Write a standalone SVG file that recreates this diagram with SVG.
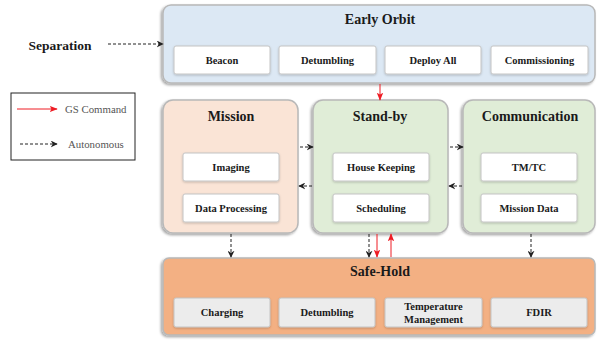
<svg xmlns="http://www.w3.org/2000/svg" width="597" height="341" viewBox="0 0 597 341">
<style>
.t{font-family:"Liberation Serif","Times New Roman",serif;font-weight:bold;fill:#1a1a1a;text-anchor:middle;dominant-baseline:central}
.ti{font-size:14px}
.s{font-size:10.5px}
.lg{font-family:"Liberation Serif","Times New Roman",serif;font-size:10.8px;fill:#555;dominant-baseline:central}
.grp{stroke:#b8b8b8;stroke-width:1.5;filter:url(#sh)}
.sub{fill:#fff;stroke:#c4c4c4;stroke-width:1;filter:url(#sh2)}
.subg{fill:#ececec;stroke:#c4c4c4;stroke-width:1;filter:url(#sh2)}
.da{stroke:#222;stroke-width:1;stroke-dasharray:3,2;fill:none;marker-end:url(#ab)}
.ra{stroke:#ee1c24;stroke-width:1;fill:none;marker-end:url(#ar)}
</style>
<defs>
<filter id="sh" x="-5%" y="-5%" width="110%" height="115%"><feDropShadow dx="-1.5" dy="1.5" stdDeviation="1" flood-color="#000" flood-opacity="0.35"/></filter>
<filter id="sh2" x="-5%" y="-10%" width="110%" height="130%"><feDropShadow dx="0" dy="1" stdDeviation="0.8" flood-color="#000" flood-opacity="0.2"/></filter>
<marker id="ab" viewBox="0 0 10 10" refX="9" refY="5" markerWidth="7" markerHeight="7" orient="auto" markerUnits="userSpaceOnUse"><path d="M0,0 L10,5 L0,10 L3,5 z" fill="#222"/></marker>
<marker id="ar" viewBox="0 0 10 10" refX="9" refY="5" markerWidth="8" markerHeight="8" orient="auto" markerUnits="userSpaceOnUse"><path d="M0,1 L10,5 L0,9 L2,5 z" fill="#ee1c24"/></marker>
</defs>
<rect width="597" height="341" fill="#fff"/>

<g id="separation"><text class="t" x="60" y="45" style="font-size:13.5px">Separation</text></g>

<g id="legend">
<rect x="11" y="93" width="124" height="67" fill="#fff" stroke="#222" stroke-width="1"/>
<line x1="17" y1="109" x2="57" y2="109" class="ra"/>
<text class="lg" x="65" y="109">GS Command</text>
<line x1="20" y1="144" x2="57" y2="144" class="da"/>
<text class="lg" x="68" y="144">Autonomous</text>
</g>

<g id="early-orbit">
<rect class="grp" x="163" y="5" width="432" height="78" rx="8" fill="#dce8f4"/>
<text class="t ti" x="380" y="19">Early Orbit</text>
<rect class="sub" x="174" y="46" width="96" height="28" rx="2"/><text class="t s" x="222" y="60">Beacon</text>
<rect class="sub" x="279" y="46" width="97" height="28" rx="2"/><text class="t s" x="327.5" y="60">Detumbling</text>
<rect class="sub" x="385" y="46" width="96" height="28" rx="2"/><text class="t s" x="433" y="60">Deploy All</text>
<rect class="sub" x="491" y="46" width="97" height="28" rx="2"/><text class="t s" x="539.5" y="60">Commissioning</text>
</g>

<g id="mission">
<rect class="grp" x="163" y="100" width="135" height="133" rx="10" fill="#fae4d6"/>
<text class="t ti" x="231" y="116">Mission</text>
<rect class="sub" x="183" y="153" width="96" height="28" rx="2"/><text class="t s" x="231" y="167">Imaging</text>
<rect class="sub" x="183" y="194" width="96" height="28" rx="2"/><text class="t s" x="231" y="208">Data Processing</text>
</g>

<g id="stand-by">
<rect class="grp" x="313" y="100" width="135" height="133" rx="10" fill="#e0edd7"/>
<text class="t ti" x="380" y="116">Stand-by</text>
<rect class="sub" x="333" y="153" width="96" height="28" rx="2"/><text class="t s" x="381" y="167">House Keeping</text>
<rect class="sub" x="333" y="194" width="96" height="28" rx="2"/><text class="t s" x="381" y="208">Scheduling</text>
</g>

<g id="communication">
<rect class="grp" x="463" y="100" width="132" height="133" rx="10" fill="#e0edd7"/>
<text class="t ti" x="530" y="116">Communication</text>
<rect class="sub" x="481" y="153" width="96" height="28" rx="2"/><text class="t s" x="529" y="167">TM/TC</text>
<rect class="sub" x="481" y="194" width="96" height="28" rx="2"/><text class="t s" x="529" y="208">Mission Data</text>
</g>

<g id="safe-hold">
<rect class="grp" x="163" y="258" width="432" height="77" rx="6" fill="#f3b083"/>
<text class="t ti" x="380" y="271">Safe-Hold</text>
<rect class="subg" x="174" y="298" width="96" height="29" rx="2"/><text class="t s" x="222" y="312.5">Charging</text>
<rect class="subg" x="279" y="298" width="96" height="29" rx="2"/><text class="t s" x="327" y="312.5">Detumbling</text>
<rect class="subg" x="385" y="298" width="97" height="29" rx="2"/><text class="t s" x="433.5" y="306">Temperature</text><text class="t s" x="433.5" y="319">Management</text>
<rect class="subg" x="491" y="298" width="96" height="29" rx="2"/><text class="t s" x="539" y="312.5">FDIR</text>
</g>

<g id="connectors">
<line x1="108" y1="44" x2="163" y2="44" class="da"/>
<line x1="380" y1="84" x2="380" y2="100" class="ra"/>
<line x1="300" y1="147" x2="313" y2="147" class="da"/>
<line x1="312" y1="186" x2="299" y2="186" class="da"/>
<line x1="450" y1="147" x2="463" y2="147" class="da"/>
<line x1="462" y1="186" x2="449" y2="186" class="da"/>
<line x1="231" y1="234" x2="231" y2="257" class="da"/>
<line x1="369" y1="234" x2="369" y2="257" class="da"/>
<line x1="377" y1="234" x2="377" y2="257" class="ra"/>
<line x1="391" y1="257" x2="391" y2="234" class="ra"/>
<line x1="531" y1="234" x2="531" y2="257" class="da"/>
</g>
</svg>
